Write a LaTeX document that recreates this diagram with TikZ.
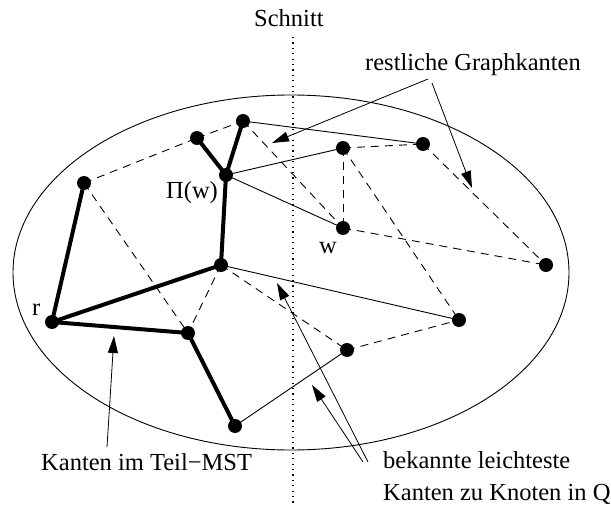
\documentclass[tikz,border=0pt]{standalone}
\usepackage{fontspec}
\setmainfont{Liberation Serif}
\usetikzlibrary{arrows.meta}
\pgfdeclarelayer{bg}
\pgfsetlayers{bg,main}
\begin{document}
\begin{tikzpicture}[x=1pt,y=-1pt,
  dot/.style={circle,fill=black,inner sep=0pt,minimum size=14pt},
  mst/.style={line width=4pt,line cap=round},
  solid edge/.style={line width=0.9pt},
  dash edge/.style={line width=0.9pt,dash pattern=on 8pt off 6pt},
  lbl/.style={font=\fontsize{24.5}{29}\selectfont,inner sep=0pt,anchor=base west},
  pointer/.style={line width=0.8pt,-{Triangle[length=17pt,width=10pt]}}]
\useasboundingbox (0,0) rectangle (611,508);
% nodes
\node[dot] (A) at (84,183) {};
\node[dot] (B) at (197,138) {};
\node[dot] (C) at (243,121) {};
\node[dot] (P) at (226,175) {};
\node[dot] (D) at (221,265) {};
\node[dot] (R) at (52,322) {};
\node[dot] (E) at (188,333) {};
\node[dot] (F) at (235,426) {};
\node[dot] (G) at (343,148) {};
\node[dot] (H) at (423,144) {};
\node[dot] (W) at (343,228) {};
\node[dot] (I) at (546,265) {};
\node[dot] (J) at (459,320) {};
\node[dot] (K) at (347,350) {};
% labels
\node[lbl] (schnitt) at (254,27) {Schnitt};
\node[lbl] (rest) at (365,71) {restliche Graphkanten};
\node[lbl] (piw) at (166,199) {Π(w)};
\node[lbl] (wl) at (319,253) {w};
\node[lbl] (rl) at (32,315) {r};
\node[lbl] (mstl) at (41,470) {Kanten im Teil−MST};
\node[lbl] (bek1) at (383,468) {bekannte leichteste};
\node[lbl] (bek2) at (383,500) {Kanten zu Knoten in Q};
\begin{pgfonlayer}{bg}
\draw[line width=0.9pt] (291,272.5) ellipse [x radius=278pt, y radius=177.5pt];
\coordinate (cutTop) at (293,37);
\coordinate (cutBot) at (293,506);
\draw[line width=1.1pt,dash pattern=on 1.2pt off 4.2pt] (cutTop) -- (cutBot);
% MST edges
\draw[mst] (R.center) -- (A.center);
\draw[mst] (R.center) -- (D.center);
\draw[mst] (R.center) -- (E.center);
\draw[mst] (E.center) -- (F.center);
\draw[mst] (D.center) -- (P.center);
\draw[mst] (P.center) -- (B.center);
\draw[mst] (P.center) -- (C.center);
% solid edges
\draw[solid edge] (C.center) -- (H.center);
\draw[solid edge] (P.center) -- (G.center);
\draw[solid edge] (P.center) -- (W.center);
\draw[solid edge] (D.center) -- (J.center);
\draw[solid edge] (F.center) -- (K.center);
% dashed edges
\draw[dash edge] (A.center) -- (B.center);
\draw[dash edge] (B.center) -- (C.center);
\draw[dash edge] (A.center) -- (E.center);
\draw[dash edge] (D.center) -- (E.center);
\draw[dash edge] (C.center) -- (W.center);
\draw[dash edge] (G.center) -- (W.center);
\draw[dash edge] (G.center) -- (H.center);
\draw[dash edge] (G.center) -- (J.center);
\draw[dash edge] (H.center) -- (I.center);
\draw[dash edge] (W.center) -- (I.center);
\draw[dash edge] (D.center) -- (K.center);
\draw[dash edge] (K.center) -- (J.center);
\end{pgfonlayer}
% pointers
\coordinate (r1s) at (428,79);
\coordinate (r1e) at (272,143);
\coordinate (r2s) at (432,83);
\coordinate (r2e) at (472,188);
\coordinate (m1s) at (107,447);
\coordinate (m1e) at (114,336);
\coordinate (b1s) at (363,462);
\coordinate (b1e) at (312,385);
\coordinate (b2s) at (368,462);
\coordinate (b2e) at (277,283);
\draw[pointer] (r1s) -- (r1e);
\draw[pointer] (r2s) -- (r2e);
\draw[pointer] (m1s) -- (m1e);
\draw[pointer] (b1s) -- (b1e);
\draw[pointer] (b2s) -- (b2e);
\end{tikzpicture}
\end{document}
